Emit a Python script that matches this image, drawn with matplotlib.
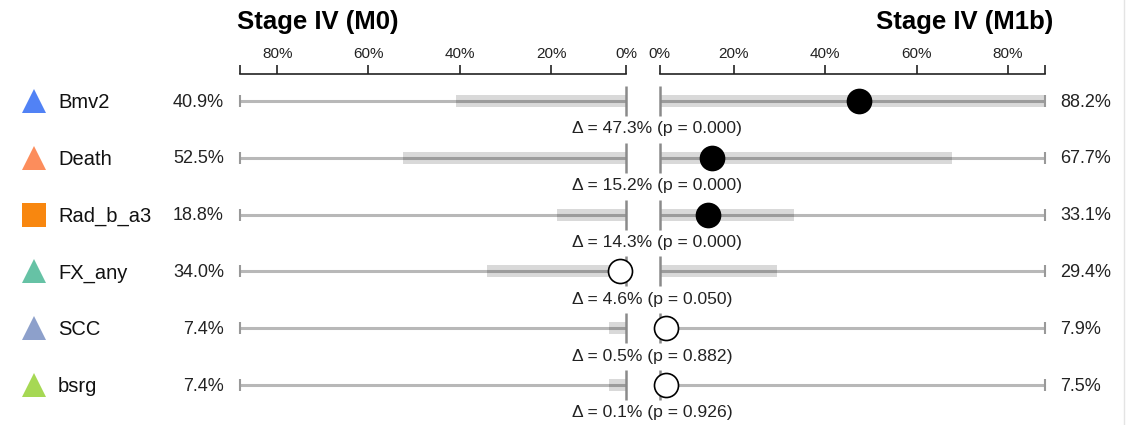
import numpy as np
import matplotlib
matplotlib.use("Agg")
import matplotlib.pyplot as plt
from matplotlib.lines import Line2D

plt.rcParams['font.family'] = ['Liberation Sans', 'DejaVu Sans']

names = ['Bmv2', 'Death', 'Rad_b_a3', 'FX_any', 'SCC', 'bsrg']
markers = ['^', '^', 's', '^', '^', '^']
mcolors = ['#5182f5', '#fc8d5c', '#f8870f', '#66c2a5', '#8da0cb', '#a6d854']
m0 = [40.9, 52.5, 18.8, 34.0, 7.4, 7.4]        # Stage IV (M0)
m1b = [88.2, 67.7, 33.1, 29.4, 7.9, 7.5]       # Stage IV (M1b)
delta = [47.3, 15.2, 14.3, 4.6, 0.5, 0.1]
pvals = [0.000, 0.000, 0.000, 0.050, 0.882, 0.926]
ticks = [20, 40, 60, 80]

W, H = 1128, 425
CX, K = 642.5, 4.567          # px of 0 %, px per %
Y0, DY = 101, 56.8            # px of first row, px per row
GAP_L, GAP_R = 3.6, 3.8       # gap around the centre, in %
XMAX = max(max(m0), max(m1b))

def px(x):
    return (x - CX) / K

def py(y):
    return (y - Y0) / DY

fig = plt.figure(figsize=(W / 100, H / 100), dpi=100)
ax = fig.add_axes([0, 0, 1, 1])
ax.set_xlim(px(0), px(W))
ax.set_ylim(py(H), py(0))
ax.axis('off')

band_h = 12 / DY
for i in range(len(names)):
    # thin full-range lines
    ax.hlines(i, -XMAX, -GAP_L, color='black', alpha=0.28, lw=2.2, zorder=2)
    ax.hlines(i, GAP_R, XMAX, color='black', alpha=0.28, lw=2.2, zorder=2)
    # value bands
    ax.barh(i, -(m0[i] - GAP_L), left=-GAP_L, height=band_h, color='#d9d9d9', zorder=1)
    ax.barh(i, m1b[i] - GAP_R, left=GAP_R, height=band_h, color='#d9d9d9', zorder=1)
    # end ticks
    ax.vlines([-XMAX, XMAX], i - 6 / DY, i + 6 / DY, color='#999999', lw=1.5, zorder=2)
    ax.vlines([-GAP_L, GAP_R], i - 15 / DY, i + 15 / DY, color='#8a8a8a', lw=1.8, zorder=2)
    # delta dot on the side of the larger value
    side = 1 if m1b[i] >= m0[i] else -1
    edge = GAP_R if side > 0 else GAP_L
    pos = side * max(delta[i], edge + 1.3)
    face = 'black' if pvals[i] < 0.05 else 'white'
    ax.plot(pos, i, 'o', ms=17.3, mfc=face, mec='black', mew=1.2, zorder=4)
    # labels
    ax.plot(px(34), i, markers[i], ms=17, color=mcolors[i], mew=0, zorder=3)
    ax.text(px(58), i + 0.03, names[i], fontsize=14.5, ha='left', va='center', color='#111111')
    ax.text(px(224), i + 0.02, f'{m0[i]:.1f}%', fontsize=13, ha='right', va='center', color='#222222')
    ax.text(px(1060), i + 0.02, f'{m1b[i]:.1f}%', fontsize=13, ha='left', va='center', color='#222222')
    ax.text(px(572), i + py(Y0 + 28), f'Δ = {delta[i]:.1f}% (p = {pvals[i]:.3f})',
            fontsize=12.6, ha='left', va='center', color='#222222')

ax.text(px(237), py(22), 'Stage IV (M0)', fontsize=18.5, fontweight='bold', ha='left', va='center')
ax.text(px(1053), py(22), 'Stage IV (M1b)', fontsize=18.5, fontweight='bold', ha='right', va='center')

# rulers on top
x0, x1 = ax.get_xlim()
def fx(v):
    return (v - x0) / (x1 - x0)

for lo, hi, sgn in [(GAP_L, XMAX, -1), (GAP_R, XMAX, 1)]:
    a, b = sorted([fx(sgn * lo), fx(sgn * hi)])
    r = fig.add_axes([a, 1 - 75 / H, b - a, 1 / H])
    if sgn < 0:
        r.set_xlim(hi, lo)
    else:
        r.set_xlim(lo, hi)
    r.set_ylim(0, 1)
    for s in ['left', 'right', 'bottom']:
        r.spines[s].set_visible(False)
    r.spines['top'].set_linewidth(1.2)
    r.spines['top'].set_color('#222222')
    r.set_yticks([])
    r.xaxis.tick_top()
    r.set_xticks([lo] + ticks + [hi])
    r.set_xticklabels(['0%'] + [f'{t}%' for t in ticks] + [''])
    r.tick_params(axis='x', direction='out', length=6.5, width=1.2, color='#222222',
                  labelsize=11, pad=3, labelcolor='#222222')
    r.patch.set_visible(False)

fig.add_artist(Line2D([1124 / W, 1124 / W], [0, 1], color='#e4e4e4', lw=1))

fig.savefig('out.png', dpi=100)
